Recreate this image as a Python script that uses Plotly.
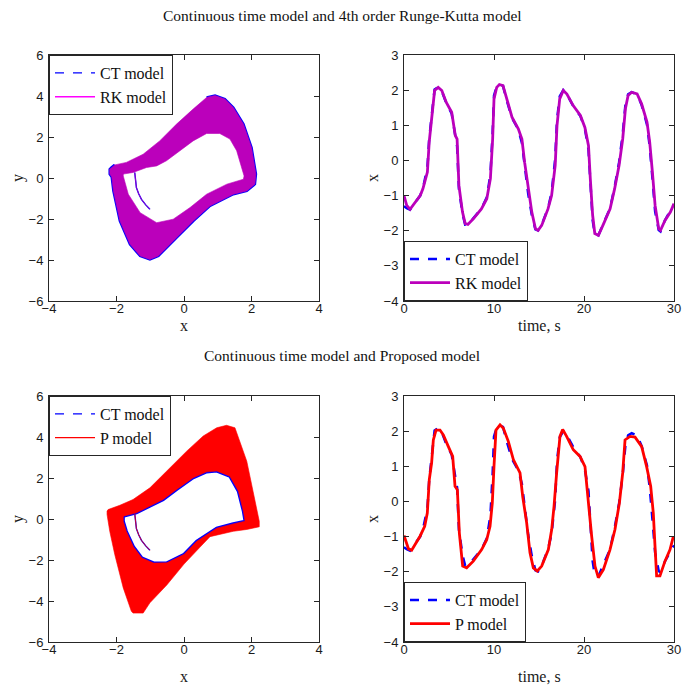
import plotly.graph_objects as go

# ---------------- phase portrait contours (x, y) ----------------
# CT / RK attractor band: outer edge and inner (hole) edge
rk_outer_x = [-2.20, -2.15, -2.05, -1.71, -1.21, -0.72, -0.22, 0.27, 0.67, 0.92, 1.21, 1.46, 1.76, 2.00, 2.13, 2.10, 1.86, 1.46, 0.77, 0.28, -0.22, -0.51, -0.76, -1.01, -1.30, -1.60, -1.90, -2.09, -2.14, -2.20]
rk_outer_y = [0.43, 0.51, 0.64, 0.76, 1.16, 1.81, 2.63, 3.36, 3.93, 4.02, 3.85, 3.44, 2.63, 1.49, 0.19, -0.30, -0.63, -0.79, -1.36, -2.09, -2.91, -3.40, -3.80, -3.97, -3.80, -3.23, -2.09, -0.63, 0.05, 0.19]
rk_inner_x = [-1.80, -1.51, -1.11, -0.81, -0.52, -0.12, 0.27, 0.67, 1.06, 1.36, 1.56, 1.71, 1.78, 1.76, 1.27, 0.67, 0.18, -0.32, -0.81, -1.30, -1.65, -1.80]
rk_inner_y = [0.19, 0.27, 0.51, 0.59, 0.84, 1.33, 1.81, 2.17, 2.17, 1.90, 1.33, 0.51, 0.10, -0.06, -0.30, -0.79, -1.44, -2.01, -2.18, -1.69, -0.79, 0.10]

# Proposed model attractor band
p_outer_x = [-2.28, -2.25, -1.90, -1.51, -1.01, -0.52, 0.08, 0.57, 0.97, 1.26, 1.51, 1.86, 2.05, 2.23, 2.23, 1.86, 1.46, 0.77, 0.47, 0.00, -0.51, -1.01, -1.21, -1.51, -1.56, -1.80, -2.05, -2.20, -2.28]
p_outer_y = [0.38, 0.46, 0.67, 0.95, 1.52, 2.34, 3.31, 4.05, 4.45, 4.57, 4.45, 2.82, 1.36, -0.11, -0.38, -0.51, -0.60, -0.86, -1.38, -2.20, -3.22, -4.09, -4.59, -4.59, -4.50, -3.36, -1.74, -0.60, 0.22]
p_inner_x = [-1.80, -1.41, -1.01, -0.62, -0.22, 0.27, 0.67, 0.97, 1.36, 1.61, 1.76, 1.81, 1.46, 0.97, 0.38, 0.00, -0.51, -0.90, -1.25, -1.50, -1.71, -1.80]
p_inner_y = [0.14, 0.30, 0.63, 0.95, 1.44, 2.01, 2.30, 2.34, 2.09, 1.36, 0.38, -0.11, -0.24, -0.45, -1.09, -1.73, -2.14, -2.15, -1.90, -1.35, -0.60, -0.11]

# start-up transient inside the hole
trans_x = [-1.46, -1.44, -1.41, -1.34, -1.26, -1.14, -1.01]
trans_y = [0.27, -0.10, -0.47, -0.78, -1.04, -1.30, -1.52]

# ---------------- time responses x(t) ----------------
rk_t = [0.0, 0.3, 0.67, 1.2, 1.8, 2.1, 2.6, 2.8, 3.0, 3.2, 3.4, 3.8, 4.2, 4.7, 5.3, 5.7, 5.9, 6.1, 6.5, 6.8, 7.1, 7.7, 8.6, 9.2, 9.6, 9.85, 10.0, 10.3, 10.6, 11.0, 11.4, 12.0, 12.7, 13.1, 13.4, 13.8, 14.2, 14.6, 14.9, 15.3, 16.0, 16.4, 16.8, 17.0, 17.3, 17.7, 18.1, 18.8, 19.6, 20.1, 20.5, 20.7, 20.96, 21.2, 21.6, 22.1, 22.9, 23.4, 23.9, 24.3, 24.6, 24.9, 25.3, 25.9, 26.4, 27.0, 27.3, 27.6, 27.9, 28.3, 28.5, 29.0, 29.6, 30.0]
rk_x = [-1.0, -1.28, -1.39, -1.2, -1.0, -0.81, -0.33, 0.52, 1.0, 1.47, 1.99, 2.08, 1.99, 1.65, 1.37, 0.71, 0.61, -0.71, -1.47, -1.80, -1.82, -1.66, -1.38, -1.09, -0.52, 0.61, 1.75, 2.08, 2.16, 2.13, 1.75, 1.23, 0.90, 0.61, -0.05, -0.81, -1.47, -1.94, -1.99, -1.85, -1.38, -1.0, -0.14, 0.99, 1.75, 1.99, 1.89, 1.56, 1.28, 0.94, 0.42, -0.52, -1.56, -2.08, -2.13, -1.85, -1.38, -0.81, -0.14, 0.61, 1.47, 1.85, 1.94, 1.89, 1.61, 1.09, 0.52, -0.33, -1.28, -1.94, -1.99, -1.71, -1.47, -1.23]

ct_t = rk_t
ct_x = [-1.3, -1.36, -1.40, -1.22, -1.0, -0.80, -0.20, 0.62, 1.15, 1.62, 2.02, 2.09, 1.97, 1.63, 1.33, 0.70, 0.40, -0.80, -1.52, -1.83, -1.83, -1.65, -1.37, -1.05, -0.40, 0.80, 1.85, 2.10, 2.16, 2.12, 1.72, 1.21, 0.88, 0.50, -0.20, -0.95, -1.55, -1.96, -1.99, -1.83, -1.36, -0.92, 0.05, 1.15, 1.82, 2.00, 1.88, 1.55, 1.26, 0.90, 0.30, -0.70, -1.70, -2.10, -2.13, -1.83, -1.36, -0.76, -0.05, 0.75, 1.58, 1.88, 1.94, 1.88, 1.58, 1.02, 0.40, -0.50, -1.45, -1.98, -2.02, -1.70, -1.45, -1.25]

p_t = [0.0, 0.5, 0.85, 1.78, 2.3, 2.59, 2.81, 3.07, 3.26, 3.56, 4.0, 4.37, 4.93, 5.41, 5.67, 5.93, 6.15, 6.52, 6.96, 7.7, 8.63, 9.19, 9.56, 9.81, 10.0, 10.22, 10.67, 11.04, 11.59, 12.15, 12.89, 13.19, 13.63, 14.0, 14.37, 14.81, 15.3, 16.04, 16.41, 16.67, 16.96, 17.33, 17.63, 18.07, 18.81, 19.56, 20.11, 20.48, 20.85, 21.22, 21.59, 22.15, 22.89, 23.44, 23.93, 24.3, 24.56, 25.11, 25.67, 26.41, 26.96, 27.41, 27.7, 27.89, 28.07, 28.44, 29.0, 29.56, 29.93]
p_x = [-0.97, -1.35, -1.39, -0.99, -0.71, -0.33, 0.62, 1.10, 1.75, 2.03, 2.03, 1.89, 1.56, 1.28, 0.43, 0.33, -0.90, -1.84, -1.89, -1.70, -1.37, -1.09, -0.71, -0.05, 1.00, 2.03, 2.18, 2.08, 1.71, 1.19, 0.81, 0.14, -0.61, -1.46, -1.89, -1.98, -1.84, -1.37, -0.80, -0.14, 0.81, 1.85, 2.05, 1.85, 1.47, 1.28, 0.99, -0.05, -0.99, -1.84, -2.17, -1.94, -1.37, -0.80, -0.05, 0.81, 1.75, 1.85, 1.83, 1.56, 0.99, 0.43, -0.33, -1.27, -2.12, -2.12, -1.70, -1.37, -0.99]

BLUE = "#0000ff"
MAG = "#bb00bb"
RED = "#ff0000"
SERIF = "Liberation Serif"
SANS = "Liberation Sans"


def band(outer_x, outer_y, inner_x, inner_y):
    """Closed ring: outer edge one way, inner edge the other way (hole)."""
    xs = list(outer_x) + [outer_x[0]] + [inner_x[0]] + list(inner_x[::-1]) + [outer_x[0]]
    ys = list(outer_y) + [outer_y[0]] + [inner_y[0]] + list(inner_y[::-1]) + [outer_y[0]]
    return xs, ys


fig = go.Figure()

# ---- top-left: CT vs RK phase portrait ----
bx, by = band(rk_outer_x, rk_outer_y, rk_inner_x, rk_inner_y)
# CT trajectory peeks out along the outer rim (from the top peak round to the left corner)
rim_x = rk_outer_x[8:] + rk_outer_x[:3]
rim_y = rk_outer_y[8:] + rk_outer_y[:3]
fig.add_trace(go.Scatter(x=rim_x, y=rim_y, mode="lines", line=dict(color=BLUE, width=2.6),
                         showlegend=False, xaxis="x", yaxis="y", hoverinfo="skip"))
fig.add_trace(go.Scatter(x=bx, y=by, mode="lines", fill="toself", fillcolor=MAG,
                         line=dict(color=MAG, width=0.6), showlegend=False,
                         xaxis="x", yaxis="y", hoverinfo="skip"))
fig.add_trace(go.Scatter(x=trans_x, y=trans_y, mode="lines", line=dict(color=BLUE, width=1.4),
                         showlegend=False, xaxis="x", yaxis="y"))
fig.add_trace(go.Scatter(x=trans_x, y=trans_y, mode="lines", line=dict(color=MAG, width=0.8),
                         showlegend=False, xaxis="x", yaxis="y"))
fig.add_trace(go.Scatter(x=[None], y=[None], mode="lines", name="CT model",
                         line=dict(color=BLUE, width=1.2, dash="dash"), legend="legend",
                         xaxis="x", yaxis="y"))
fig.add_trace(go.Scatter(x=[None], y=[None], mode="lines", name="RK model",
                         line=dict(color="#ff00ff", width=1.5), legend="legend",
                         xaxis="x", yaxis="y"))

# ---- top-right: CT vs RK time response ----
fig.add_trace(go.Scatter(x=ct_t, y=ct_x, mode="lines", name="CT model",
                         line=dict(color=BLUE, width=2.5, dash="dash"), legend="legend2",
                         xaxis="x2", yaxis="y2"))
fig.add_trace(go.Scatter(x=rk_t, y=rk_x, mode="lines", name="RK model",
                         line=dict(color=MAG, width=2.8), legend="legend2",
                         xaxis="x2", yaxis="y2"))

# ---- bottom-left: CT vs P phase portrait ----
px_, py_ = band(p_outer_x, p_outer_y, p_inner_x, p_inner_y)
# CT trajectory shows along the edge of the hole
fig.add_trace(go.Scatter(x=p_inner_x + p_inner_x[:1], y=p_inner_y + p_inner_y[:1], mode="lines",
                         line=dict(color=BLUE, width=3.2), showlegend=False,
                         xaxis="x3", yaxis="y3", hoverinfo="skip"))
fig.add_trace(go.Scatter(x=px_, y=py_, mode="lines", fill="toself", fillcolor=RED,
                         line=dict(color=RED, width=0.6), showlegend=False,
                         xaxis="x3", yaxis="y3", hoverinfo="skip"))
fig.add_trace(go.Scatter(x=trans_x, y=trans_y, mode="lines", line=dict(color=BLUE, width=1.4),
                         showlegend=False, xaxis="x3", yaxis="y3"))
fig.add_trace(go.Scatter(x=trans_x, y=trans_y, mode="lines", line=dict(color=RED, width=0.8),
                         showlegend=False, xaxis="x3", yaxis="y3"))
fig.add_trace(go.Scatter(x=[None], y=[None], mode="lines", name="CT model",
                         line=dict(color=BLUE, width=1.2, dash="dash"), legend="legend3",
                         xaxis="x3", yaxis="y3"))
fig.add_trace(go.Scatter(x=[None], y=[None], mode="lines", name="P model",
                         line=dict(color=RED, width=1.2), legend="legend3",
                         xaxis="x3", yaxis="y3"))

# ---- bottom-right: CT vs P time response ----
fig.add_trace(go.Scatter(x=ct_t, y=ct_x, mode="lines", name="CT model",
                         line=dict(color=BLUE, width=2.5, dash="dash"), legend="legend4",
                         xaxis="x4", yaxis="y4"))
fig.add_trace(go.Scatter(x=p_t, y=p_x, mode="lines", name="P model",
                         line=dict(color=RED, width=2.8), legend="legend4",
                         xaxis="x4", yaxis="y4"))

W, H = 684, 688
LX = [49 / W, 319 / W]
RX = [404 / W, 674 / W]
TY = [1 - 301 / H, 1 - 55 / H]
BY = [1 - 642 / H, 1 - 396 / H]

AX_COLOR = "#262626"
TXT = "#1a1a1a"


def axis(domain, rng, dtick, anchor, standoff):
    return dict(domain=domain, range=rng, dtick=dtick, anchor=anchor, automargin=False,
                showline=True, linecolor=AX_COLOR, linewidth=1, mirror="allticks",
                ticks="inside", ticklen=5, tickcolor=AX_COLOR, showgrid=False,
                zeroline=False, ticklabelstandoff=standoff,
                tickfont=dict(family=SANS, size=13, color=TXT))


leg = dict(bgcolor="white", bordercolor=AX_COLOR, borderwidth=1,
           font=dict(family=SERIF, size=16, color="#111"), xanchor="left",
           tracegroupgap=0, itemwidth=40)


def label(text, x, y, angle=0):
    return dict(text=text, x=x / W, y=1 - y / H, xref="paper", yref="paper",
                xanchor="center", yanchor="middle", showarrow=False, textangle=angle,
                font=dict(family=SERIF, size=16, color=TXT))


fig.update_layout(
    width=W, height=H, margin=dict(l=0, r=0, t=0, b=0, autoexpand=False),
    paper_bgcolor="white", plot_bgcolor="white", hovermode=False,
    xaxis=axis(LX, [-4, 4], 2, "y", -5),
    yaxis=axis(TY, [-6, 6], 2, "x", 2),
    xaxis2=axis(RX, [0, 30], 10, "y2", -5),
    yaxis2=axis(TY, [-4, 3], 1, "x2", 2),
    xaxis3=axis(LX, [-4, 4], 2, "y3", -5),
    yaxis3=axis(BY, [-6, 6], 2, "x3", 2),
    xaxis4=axis(RX, [0, 30], 10, "y4", -5),
    yaxis4=axis(BY, [-4, 3], 1, "x4", 2),
    legend=dict(leg, x=LX[0], y=TY[1], yanchor="top"),
    legend2=dict(leg, x=RX[0], y=TY[0], yanchor="bottom"),
    legend3=dict(leg, x=LX[0], y=BY[1], yanchor="top"),
    legend4=dict(leg, x=RX[0], y=BY[0], yanchor="bottom"),
    annotations=[
        dict(text="Continuous time model and 4th order Runge-Kutta model", x=0.5, y=1 - 15 / H,
             xref="paper", yref="paper", xanchor="center", yanchor="middle", showarrow=False,
             font=dict(family=SERIF, size=15.5, color="#111")),
        dict(text="Continuous time model and Proposed model", x=0.5, y=1 - 355 / H,
             xref="paper", yref="paper", xanchor="center", yanchor="middle", showarrow=False,
             font=dict(family=SERIF, size=15.5, color="#111")),
        label("x", 184, 326), label("time, s", 539, 326),
        label("x", 184, 676), label("time, s", 539, 676),
        label("y", 18, 178, -90), label("x", 372, 178, -90),
        label("y", 18, 519, -90), label("x", 372, 519, -90),
    ],
)

fig.write_html("out.html")
